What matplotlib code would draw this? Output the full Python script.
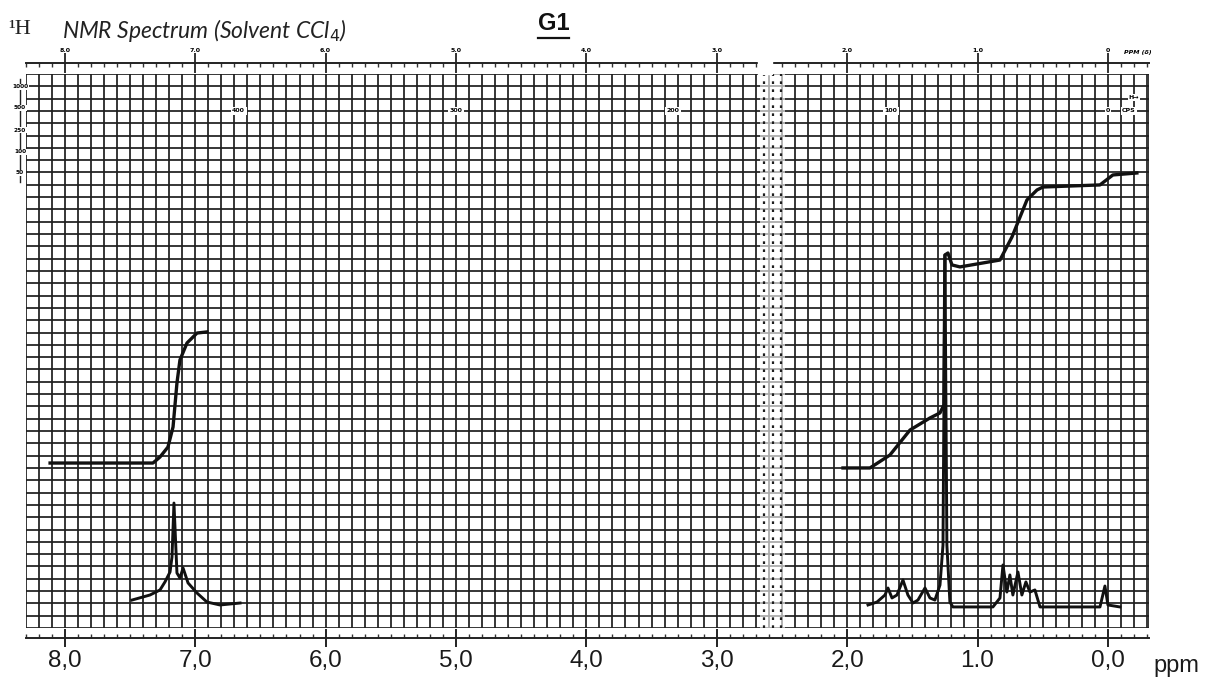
import matplotlib
matplotlib.use("Agg")
import matplotlib.pyplot as plt
import numpy as np
from matplotlib.transforms import blended_transform_factory
from matplotlib.ticker import MultipleLocator
from matplotlib.patches import Rectangle
from matplotlib.lines import Line2D

# ---------------- data ----------------
# spectrum trace, aromatic region (ppm, pen height in chart divisions)
arom_shift = [7.485, 7.347, 7.270, 7.232, 7.193, 7.178, 7.163, 7.140, 7.117,
              7.093, 7.055, 6.986, 6.910, 6.810, 6.656]
arom_int = [2.27, 2.68, 3.09, 3.74, 4.55, 5.77, 10.15, 4.47, 4.06,
            4.87, 3.66, 2.84, 2.11, 1.87, 2.03]

# spectrum trace, aliphatic region + TMS
alkyl_shift = [1.840, 1.771, 1.710, 1.687, 1.656, 1.618, 1.572, 1.534, 1.495,
               1.457, 1.403, 1.365, 1.327, 1.288, 1.265, 1.250, 1.235, 1.212,
               1.189, 0.882, 0.828, 0.805, 0.775, 0.752, 0.729, 0.690, 0.660,
               0.629, 0.598, 0.560, 0.521, 0.061, 0.023, 0.000, -0.092]
alkyl_int = [1.87, 2.11, 2.68, 3.25, 2.44, 2.68, 3.90, 2.68, 2.03,
             2.27, 3.25, 2.44, 2.27, 3.49, 6.74, 30.30, 6.74, 2.11,
             1.71, 1.71, 2.44, 5.12, 2.92, 4.31, 2.68, 4.55, 2.68,
             3.74, 2.92, 3.09, 1.71, 1.71, 3.41, 1.87, 1.71]

# integration curves
arom_integ_shift = [8.113, 7.400, 7.324, 7.270, 7.209, 7.170, 7.140, 7.117,
                    7.063, 6.986, 6.910]
arom_integ = [13.40, 13.40, 13.40, 13.89, 14.70, 16.33, 19.90, 21.77,
              23.15, 23.96, 24.05]

alkyl_integ_shift = [2.032, 1.825, 1.672, 1.518, 1.365, 1.288, 1.258, 1.250,
                     1.227, 1.196, 1.135, 0.828, 0.736, 0.621, 0.544, 0.498,
                     0.061, -0.038, -0.222]
alkyl_integ = [13.00, 13.00, 14.05, 16.08, 17.06, 17.47, 18.12, 30.30,
               30.46, 29.49, 29.33, 29.89, 31.76, 34.77, 35.58, 35.82,
               35.99, 36.80, 36.96]

# axis labels
bottom_ticks = [8, 7, 6, 5, 4, 3, 2, 1, 0]
bottom_labels = ["8,0", "7,0", "6,0", "5,0", "4,0", "3,0", "2,0", "1.0", "0,0"]
top_labels = ["8.0", "7.0", "6.0", "5.0", "4.0", "3.0", "2.0", "1.0", "0"]
cps_values = [400, 300, 200, 100]
sweep_labels = ["1000", "500", "250", "100", "50"]
sweep_rows = [43.95, 42.24, 40.45, 38.67, 36.96]

# ---------------- figure ----------------
W, H = 1205, 691
fig = plt.figure(figsize=(W / 100, H / 100), dpi=100)
fig.patch.set_facecolor("white")

x_left_px, x_right_px, y_top_px, y_bot_px = 25.7, 1149.0, 74, 628
ax = fig.add_axes([x_left_px / W, 1 - y_bot_px / H,
                   (x_right_px - x_left_px) / W, (y_bot_px - y_top_px) / H])
ax.set_xlim(8.3, -0.315)
ax.set_ylim(0, 45)
ax.set_facecolor("white")
for s in ax.spines.values():
    s.set_visible(False)
ax.spines["bottom"].set_visible(True)
ax.spines["bottom"].set_position(("outward", 7))
ax.spines["bottom"].set_linewidth(1.4)
ax.spines["bottom"].set_color("#222222")
ax.set_yticks([])

grid_c = "#1e1e1e"
vx = np.round(np.arange(-3, 84) * 0.1, 2)
ax.vlines(vx, 0, 45, color=grid_c, lw=1.25, zorder=1)
ax.vlines([-0.315], 0, 45, color=grid_c, lw=1.25, zorder=1)
ax.hlines(np.arange(0, 46), 8.3, -0.315, color=grid_c, lw=1.25, zorder=1)

# paper seam
trans = blended_transform_factory(ax.transData, ax.transAxes)
ax.axvspan(2.67, 2.48, color="white", alpha=0.62, zorder=2, lw=0)
ax.vlines([2.635, 2.565, 2.505], 0, 45, color=grid_c, lw=1.6,
          linestyles=(0, (1.2, 2.4)), zorder=3)

# spectrum and integrals
pen = "#111111"
ax.plot(arom_shift, arom_int, color=pen, lw=2.1, zorder=5, solid_joinstyle="round")
ax.plot(alkyl_shift, alkyl_int, color=pen, lw=2.1, zorder=5, solid_joinstyle="round")
ax.plot(arom_integ_shift, arom_integ, color=pen, lw=2.4, zorder=5, solid_joinstyle="round")
ax.plot(alkyl_integ_shift, alkyl_integ, color=pen, lw=2.4, zorder=5, solid_joinstyle="round")

# bottom printed scale + typed labels
ax.set_xticks(bottom_ticks, labels=bottom_labels)
ax.xaxis.set_minor_locator(MultipleLocator(0.1))
ax.tick_params(axis="x", which="major", direction="inout", length=13, width=1.4,
               color="#222222", labelsize=17.5, pad=2)
ax.tick_params(axis="x", which="minor", direction="in", length=3, width=1.0,
               color="#333333")
for lab in ax.get_xticklabels():
    lab.set_fontfamily("Liberation Sans")
    lab.set_color("#1a1a1a")
fig.text(1176 / W, 1 - 666 / H, "ppm", fontsize=17, family="Liberation Sans",
         ha="center", va="center", color="#1a1a1a")

# top printed scale
sec = ax.secondary_xaxis(1 + 11 / (y_bot_px - y_top_px))
sec.set_xticks(bottom_ticks, labels=top_labels)
sec.xaxis.set_minor_locator(MultipleLocator(0.1))
sec.tick_params(axis="x", which="major", direction="inout", length=14, width=1.3,
                color="#222222", labelsize=4.5, pad=0)
sec.tick_params(axis="x", which="minor", direction="in", length=3, width=1.0,
                color="#333333")
for lab in sec.get_xticklabels():
    lab.set_fontweight("bold")
sec.spines["top"].set_linewidth(1.4)
sec.spines["top"].set_color("#222222")
ax.add_patch(Rectangle((2.68, 1.0), -0.1, 0.04, transform=trans, color="white",
                       clip_on=False, zorder=10))
ax.text(-0.12, 1.034, "PPM (δ)", transform=trans, fontsize=4.5, fontweight="bold",
        ha="left", va="bottom", fontstyle="italic")

# CPS scale labels inside the grid
for c in cps_values:
    ax.text(c / 60.0, 42, str(c), fontsize=4.5, fontweight="bold", ha="center",
            va="center", zorder=6,
            bbox=dict(boxstyle="square,pad=0.25", fc="white", ec="none"))
ax.text(0.0, 42, "0", fontsize=4.5, fontweight="bold", ha="center", va="center",
        zorder=6, bbox=dict(boxstyle="square,pad=0.2", fc="white", ec="none"))
ax.text(-0.16, 42, "CPS", fontsize=4.5, fontweight="bold", ha="center", va="center",
        zorder=6, bbox=dict(boxstyle="square,pad=0.2", fc="white", ec="none"))
ax.text(-0.2, 43.1, "H→", fontsize=4.5, fontweight="bold", ha="center", va="center",
        zorder=6, bbox=dict(boxstyle="square,pad=0.1", fc="white", ec="none"))

# sweep-width labels at the left edge
lt = blended_transform_factory(ax.transAxes, ax.transData)
ax.add_line(Line2D([-0.005, -0.005], [36.2, 44.6], transform=lt, color="#222222",
                   lw=1.0, clip_on=False, zorder=6))
for lab, r in zip(sweep_labels, sweep_rows):
    ax.text(-0.005, r, lab, transform=lt, fontsize=4.2, fontweight="bold",
            ha="center", va="center", zorder=7, clip_on=False,
            bbox=dict(boxstyle="square,pad=0.15", fc="white", ec="none"))

# titles
fig.text(8 / W, 1 - 29 / H, "¹H", fontsize=16, family="Liberation Serif",
         ha="left", va="center", color="#222222")
fig.text(62 / W, 1 - 30 / H, "NMR Spectrum (Solvent CCl$_4$)", fontsize=16.5,
         family="Lato", style="italic", ha="left", va="center", color="#222222")
fig.text(554 / W, 1 - 24 / H, "G1", fontsize=17, family="Liberation Sans",
         weight="bold", ha="center", va="center", color="#111111")
fig.add_artist(Line2D([538 / W, 569 / W], [1 - 38 / H, 1 - 38 / H], color="#111111",
                      lw=1.6, transform=fig.transFigure))

fig.savefig("out.png", dpi=100, facecolor="white")
